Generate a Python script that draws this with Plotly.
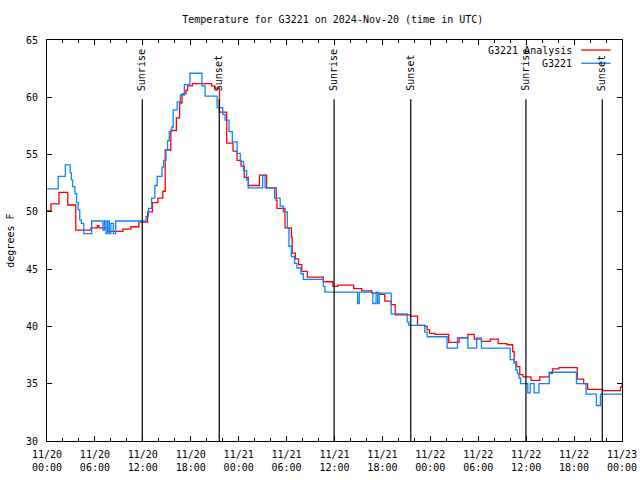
import plotly.graph_objects as go

# ---- data (hours since 2024-11-20 00:00 UTC, degrees F) ----
obs_hours = [0, 1.4, 2.3, 2.9, 3.05, 3.2, 3.5, 3.7, 3.9, 4.1, 4.3, 4.6, 5.6, 7.0, 7.2, 7.4, 7.6, 7.8,
             8.0, 8.3, 8.6, 12.4, 12.7, 13.1, 13.5, 13.8, 14.4, 14.6, 14.9, 15.1, 15.3, 15.6, 15.8,
             16.3, 16.7, 17.2, 17.9, 19.4, 19.8, 21.3, 22.0, 22.3, 22.8, 23.2, 23.8, 24.2, 24.6,
             25.0, 25.2, 27.0, 27.3, 28.5, 29.2, 29.6, 30.1, 30.3, 30.6, 31.0, 31.3, 31.8, 32.1,
             34.6, 34.8, 38.9, 39.1, 40.7, 40.8, 41.1, 41.2, 41.4, 41.6, 43.1, 45.1, 45.3, 47.3,
             47.6, 50.1, 51.4, 52.7, 53.8, 54.4, 58.0, 58.5, 58.7, 58.9, 59.1, 59.3, 60.2, 60.5,
             61.0, 61.6, 62.9, 66.3, 67.5, 68.8, 69.3, 72.0]
obs_temp = [52.0, 53.1, 54.1, 53.4, 52.8, 52.2, 51.6, 50.8, 50.2, 49.3, 49.0, 48.1, 49.2, 48.4, 49.2,
            48.1, 49.2, 48.1, 49.0, 48.1, 49.2, 49.6, 50.3, 51.2, 52.3, 53.1, 53.9, 54.5, 55.4, 56.2,
            57.0, 57.4, 58.9, 59.6, 60.2, 61.1, 62.1, 61.0, 60.1, 59.1, 58.5, 58.0, 57.0, 56.1, 55.1,
            54.4, 53.6, 52.8, 52.1, 53.2, 52.1, 51.2, 50.5, 50.0, 48.6, 47.0, 46.1, 45.5, 45.1, 44.6,
            44.1, 43.5, 43.0, 42.0, 43.0, 42.9, 42.0, 42.0, 43.0, 42.0, 42.9, 41.1, 40.4, 40.1, 39.5,
            39.1, 38.1, 39.0, 38.1, 39.0, 38.1, 37.1, 36.8, 36.2, 35.9, 35.5, 35.0, 34.2, 35.0, 34.2,
            35.0, 36.0, 35.0, 34.1, 33.1, 34.1, 34.1]

ana_hours = [0, 0.5, 1.5, 2.6, 3.6, 5.5, 6.3, 6.5, 7.6, 9.5, 10.5, 11.5, 12.6, 13.2, 13.9, 14.5,
             14.8, 15.5, 16.2, 16.6, 16.9, 17.4, 17.6, 18.2, 20.6, 21.0, 21.6, 22.5, 23.3, 23.8,
             24.3, 24.7, 25.2, 26.6, 27.5, 28.7, 28.8, 29.8, 30.6, 30.7, 31.1, 31.5, 31.9, 32.6,
             34.6, 35.8, 36.4, 38.4, 39.4, 40.7, 41.7, 42.3, 43.1, 43.6, 45.5, 46.4, 47.3, 47.6,
             47.9, 48.6, 50.3, 51.6, 52.7, 53.5, 54.4, 55.5, 56.5, 57.6, 58.3, 58.5, 58.8, 59.2,
             59.6, 60.6, 61.7, 62.9, 63.3, 64.1, 66.4, 67.2, 67.7, 69.6, 71.8, 72.0]
ana_temp = [50.1, 50.7, 51.7, 50.6, 48.4, 48.6, 48.8, 48.6, 48.3, 48.5, 48.7, 49.1, 50.0, 50.8, 51.2,
            51.8, 55.4, 57.1, 58.2, 59.5, 60.3, 60.6, 61.0, 61.2, 61.0, 60.8, 58.7, 56.0, 55.3, 54.5,
            54.0, 53.0, 52.3, 53.2, 52.1, 51.0, 50.3, 48.6, 47.8, 46.4, 45.9, 45.4, 44.8, 44.3, 43.9,
            43.5, 43.6, 43.3, 43.1, 42.9, 42.8, 42.2, 41.9, 41.0, 40.9, 40.1, 40.0, 39.7, 39.4, 39.3,
            38.6, 39.0, 39.3, 38.9, 38.7, 38.9, 38.5, 38.4, 37.8, 36.9, 36.5, 35.8, 35.6, 35.3, 35.6,
            35.9, 36.3, 36.4, 35.4, 35.0, 34.5, 34.4, 34.7, 35.0]

sunrise_hours = [11.93, 35.95, 59.97]
sunset_hours = [21.57, 45.55, 69.53]

tick_hours = [0, 6, 12, 18, 24, 30, 36, 42, 48, 54, 60, 66, 72]
tick_labels = ["11/20<br>00:00", "11/20<br>06:00", "11/20<br>12:00", "11/20<br>18:00",
               "11/21<br>00:00", "11/21<br>06:00", "11/21<br>12:00", "11/21<br>18:00",
               "11/22<br>00:00", "11/22<br>06:00", "11/22<br>12:00", "11/22<br>18:00",
               "11/23<br>00:00"]

FONT = "DejaVu Sans Mono"
RED = "#ff0000"
BLUE = "#0a84ff"

fig = go.Figure()
fig.add_trace(go.Scatter(x=ana_hours, y=ana_temp, mode="lines", line=dict(color=RED, width=1.3, shape="hv"),
                         name="G3221 Analysis", showlegend=False))
fig.add_trace(go.Scatter(x=obs_hours, y=obs_temp, mode="lines", line=dict(color=BLUE, width=1.3, shape="hv"),
                         name="G3221", showlegend=False))

shapes = []
annotations = []
for h, lab in [(v, "Sunrise") for v in sunrise_hours] + [(v, "Sunset") for v in sunset_hours]:
    shapes.append(dict(type="line", xref="x", yref="paper", x0=h, x1=h, y0=0, y1=0.852,
                       line=dict(color="black", width=1.2)))
    annotations.append(dict(x=h, y=0.868, xref="x", yref="paper", text=lab, textangle=-90,
                            showarrow=False, xanchor="center", yanchor="bottom",
                            font=dict(family=FONT, size=10, color="black")))

# legend drawn as text + line samples (gnuplot style)
for yy, lab, col in [(0.975, "G3221 Analysis", RED), (0.942, "G3221", BLUE)]:
    annotations.append(dict(x=0.9165, y=yy, xref="paper", yref="paper", text=lab, showarrow=False,
                            xanchor="right", yanchor="middle", font=dict(family=FONT, size=10, color="black")))
    shapes.append(dict(type="line", xref="paper", yref="paper", x0=0.929, x1=0.980, y0=yy, y1=yy,
                       line=dict(color=col, width=1.3)))

annotations.append(dict(x=-0.064, y=0.5, xref="paper", yref="paper", text="degrees F", textangle=-90,
                        showarrow=False, xanchor="center", yanchor="middle",
                        font=dict(family=FONT, size=10, color="black")))

fig.update_layout(
    width=640, height=480,
    margin=dict(l=47, r=18, t=40, b=39, autoexpand=False),
    paper_bgcolor="white", plot_bgcolor="white",
    title=dict(text="Temperature for G3221 on 2024-Nov-20 (time in UTC)", x=0.52, xanchor="center",
               y=0.96, yanchor="middle", font=dict(family=FONT, size=10, color="black")),
    font=dict(family=FONT, size=10, color="black"),
    shapes=shapes, annotations=annotations, showlegend=False,
)
fig.update_xaxes(range=[0, 72], tickvals=tick_hours, ticktext=tick_labels, ticks="inside", ticklen=5,
                 tickcolor="black", showline=True, linecolor="black", linewidth=1, mirror="ticks",
                 showgrid=False, zeroline=False, ticklabelstandoff=4, automargin=False,
                 minor=dict(dtick=2, tick0=0, ticks="inside", ticklen=3, tickcolor="black", showgrid=False))
fig.update_yaxes(range=[30, 65], dtick=5, ticks="inside", ticklen=5, tickcolor="black",
                 showline=True, linecolor="black", linewidth=1, mirror="ticks", showgrid=False,
                 zeroline=False, ticklabelstandoff=6, automargin=False)

fig.write_html("out.html", config={"displayModeBar": False},
               post_script="document.body.style.margin='0';")
